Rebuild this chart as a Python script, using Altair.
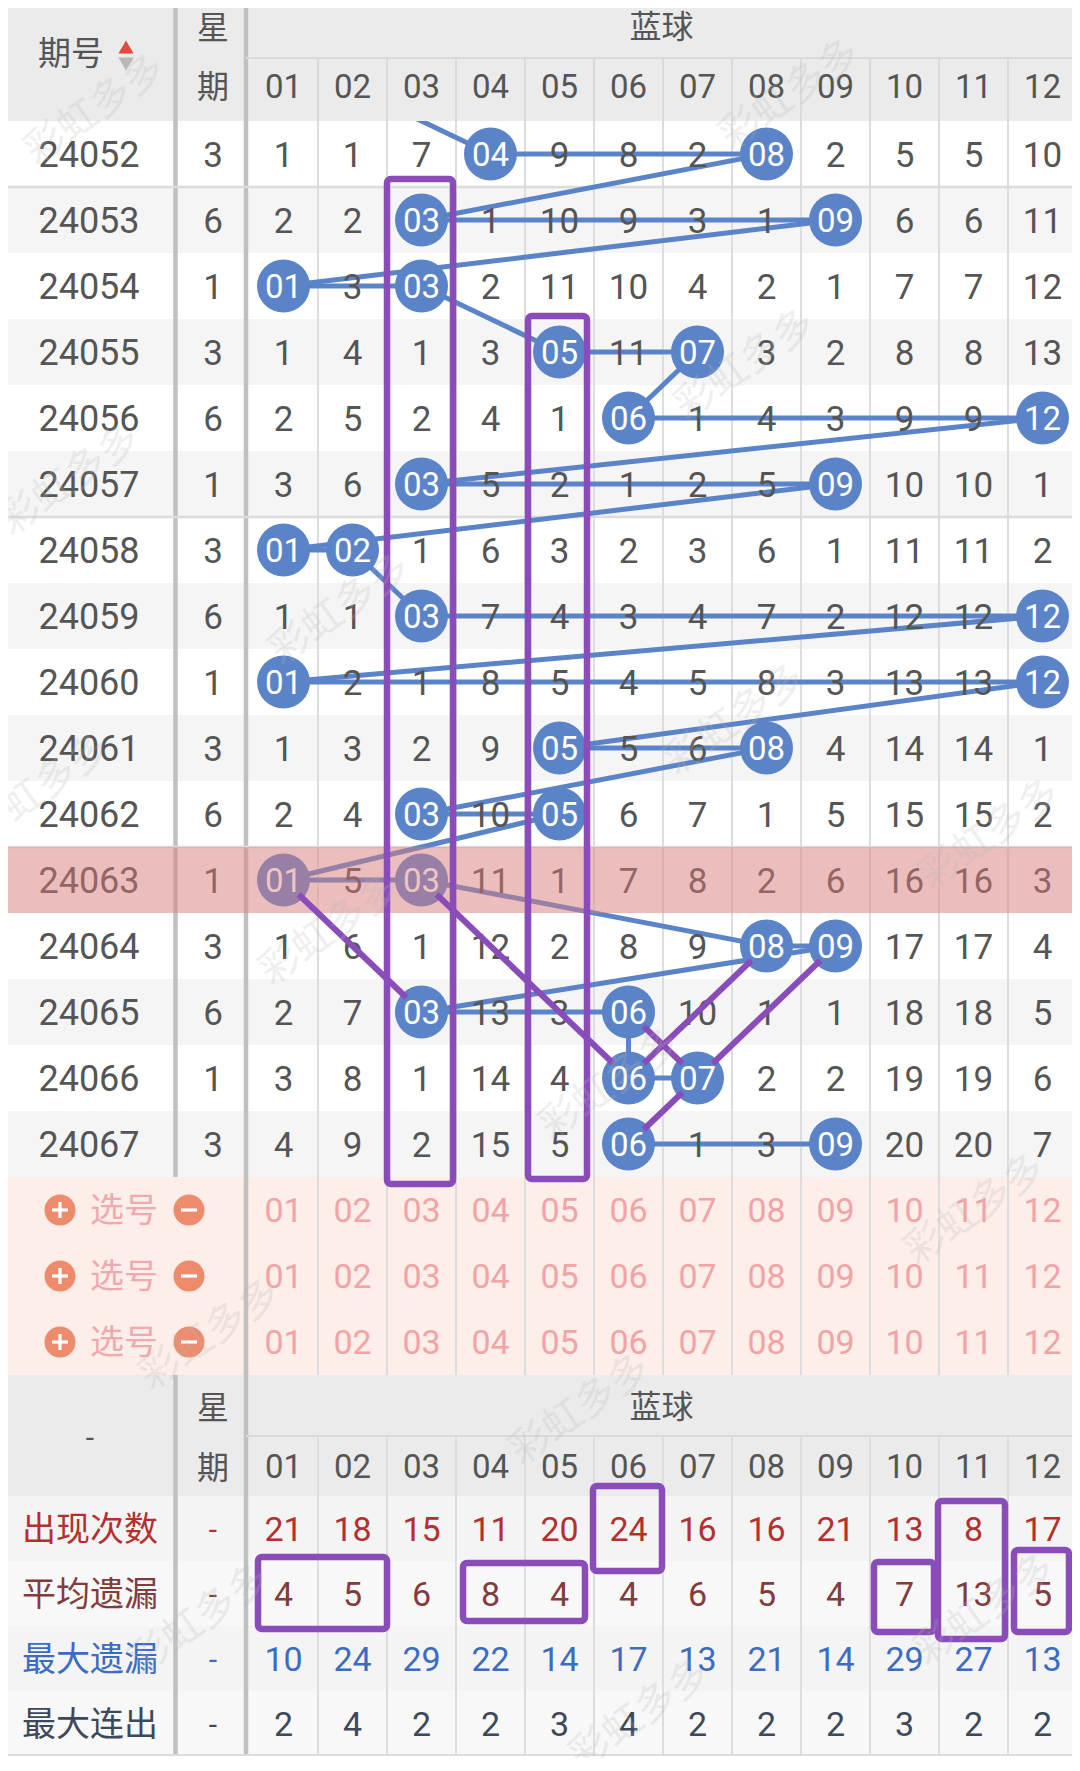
import math
import altair as alt
import pandas as pd

# ---------------- data ----------------
periods = ["24052", "24053", "24054", "24055", "24056", "24057", "24058", "24059",
           "24060", "24061", "24062", "24063", "24064", "24065", "24066", "24067"]
weekdays = [3, 6, 1, 3, 6, 1, 3, 6, 1, 3, 6, 1, 3, 6, 1, 3]
ball_labels = ["01", "02", "03", "04", "05", "06", "07", "08", "09", "10", "11", "12"]
H = None  # a drawn ball (circle) instead of a miss count
miss_rows = [
    [1, 1, 7, H, 9, 8, 2, H, 2, 5, 5, 10],
    [2, 2, H, 1, 10, 9, 3, 1, H, 6, 6, 11],
    [H, 3, H, 2, 11, 10, 4, 2, 1, 7, 7, 12],
    [1, 4, 1, 3, H, 11, H, 3, 2, 8, 8, 13],
    [2, 5, 2, 4, 1, H, 1, 4, 3, 9, 9, H],
    [3, 6, H, 5, 2, 1, 2, 5, H, 10, 10, 1],
    [H, H, 1, 6, 3, 2, 3, 6, 1, 11, 11, 2],
    [1, 1, H, 7, 4, 3, 4, 7, 2, 12, 12, H],
    [H, 2, 1, 8, 5, 4, 5, 8, 3, 13, 13, H],
    [1, 3, 2, 9, H, 5, 6, H, 4, 14, 14, 1],
    [2, 4, H, 10, H, 6, 7, 1, 5, 15, 15, 2],
    [H, 5, H, 11, 1, 7, 8, 2, 6, 16, 16, 3],
    [1, 6, 1, 12, 2, 8, 9, H, H, 17, 17, 4],
    [2, 7, H, 13, 3, H, 10, 1, 1, 18, 18, 5],
    [3, 8, 1, 14, 4, H, H, 2, 2, 19, 19, 6],
    [4, 9, 2, 15, 5, H, 1, 3, H, 20, 20, 7],
]
prev_last_ball = 2          # last ball of the period above 24052 (line enters from it)
highlight_period = "24063"
select_label = "选号"
select_rows = 3
stat_labels = ["出现次数", "平均遗漏", "最大遗漏", "最大连出"]
stat_values = [
    [21, 18, 15, 11, 20, 24, 16, 16, 21, 13, 8, 17],
    [4, 5, 6, 8, 4, 4, 6, 5, 4, 7, 13, 5],
    [10, 24, 29, 22, 14, 17, 13, 21, 14, 29, 27, 13],
    [2, 4, 2, 2, 3, 4, 2, 2, 2, 3, 2, 2],
]
# hand-drawn marks: (period, ball) -> (period, ball)
mark_links = [("24063", 1, "24065", 3), ("24063", 3, "24066", 6), ("24066", 6, "24064", 8),
              ("24065", 6, "24066", 7), ("24066", 7, "24064", 9), ("24067", 6, "24066", 7)]
# boxes over the trend: (ball, first period, last period)
trend_boxes = [(3, "24053", "24067"), (5, "24055", "24067")]
# boxes over the statistics: (first ball, last ball, first stat row, last stat row)
stat_boxes = [(6, 6, 0, 0), (1, 2, 1, 1), (4, 5, 1, 1), (10, 10, 1, 1), (11, 11, 0, 1), (12, 12, 1, 1)]
watermark = "彩虹多多"

# ---------------- styles / layout ----------------
BLUE = "#5b83c8"
PURPLE = "#8a4cb9"
TXT = "#555555"
GRID = "#dedede"
DIV = "#c0c0c0"
HDR_BG = "#ebebeb"
NUMF = "Roboto"
CJKF = "Noto Sans CJK SC"
stat_colors = ["#b3302f", "#823c3c", "#3b6cc2", "#3e485b"]

XL, XR, YT, YB = 8, 1072, 8, 1758
PER_R = 175.5
WEEK_C = 213
DIV2 = 246
B0, BW = 249, 69
def bl(k): return B0 + BW * k
def bc(k): return B0 + BW * k + BW / 2
HDR_MID, HDR_END = 58, 121
R0, RH = 121, 66
NR = len(periods)
def rt(i): return R0 + RH * i
def rc(i): return R0 + RH * i + RH / 2
S0, SH = R0 + RH * NR, 66
B1 = S0 + SH * select_rows          # bottom header start
B1_MID, T0, TH = B1 + 61, B1 + 121, 65
TEND = T0 + TH * len(stat_labels)
CIRC_D = 53
TDY = 2                              # text optical offset
pidx = {p: i for i, p in enumerate(periods)}

xs = alt.Scale(domain=[XL, XR], nice=False, zero=False)
ys = alt.Scale(domain=[YT, YB], nice=False, zero=False, reverse=True)

def rect_layer(rows, **mark):
    df = pd.DataFrame(rows)
    enc = dict(x=alt.X("x:Q", scale=xs, axis=None), x2="x2:Q",
               y=alt.Y("y:Q", scale=ys, axis=None), y2="y2:Q")
    if "fill" in df.columns:
        enc["fill"] = alt.Fill("fill:N", scale=None)
    return alt.Chart(df).mark_rect(**mark).encode(**enc)

def rule_layer(rows, cap="butt", opacity=1):
    df = pd.DataFrame(rows)
    return alt.Chart(df).mark_rule(strokeCap=cap, opacity=opacity).encode(
        x=alt.X("x:Q", scale=xs, axis=None), x2="x2:Q",
        y=alt.Y("y:Q", scale=ys, axis=None), y2="y2:Q",
        color=alt.Color("c:N", scale=None),
        strokeWidth=alt.StrokeWidth("w:Q", scale=None))

def text_layer(rows, font, **mark):
    df = pd.DataFrame(rows)
    return alt.Chart(df).mark_text(font=font, align="center", baseline="middle", **mark).encode(
        x=alt.X("x:Q", scale=xs, axis=None), y=alt.Y("y:Q", scale=ys, axis=None),
        text="t:N", color=alt.Color("c:N", scale=None), size=alt.Size("s:Q", scale=None))

# ---------- backgrounds ----------
bg = [dict(x=0, x2=1080, y=0, y2=1771, fill="#ffffff")]
for i in range(NR):
    bg.append(dict(x=0, x2=1080, y=rt(i), y2=rt(i + 1), fill="#ffffff" if i % 2 == 0 else "#f5f5f5"))
bg.append(dict(x=0, x2=1080, y=S0, y2=B1, fill="#fdeee9"))
bg.append(dict(x=0, x2=1080, y=B1, y2=T0, fill=HDR_BG))
for k in range(len(stat_labels)):
    bg.append(dict(x=0, x2=1080, y=T0 + TH * k, y2=T0 + TH * (k + 1),
                   fill="#f4f4f4" if k % 2 == 0 else "#f8f8f8"))

grid = []
def g(x, y, x2, y2, c=GRID, w=2):
    grid.append(dict(x=x, y=y, x2=x2, y2=y2, c=c, w=w))
g(PER_R, HDR_END, PER_R, S0, DIV, 4.5)
g(PER_R, B1, PER_R, TEND, DIV, 4.5)
g(DIV2, HDR_END, DIV2, TEND, DIV, 4.5)
for k in range(1, 13):
    g(bl(k), HDR_END, bl(k), B1, "#dddddd" if k < 12 else "#cfcfcf", 2)
    g(bl(k), B1_MID if k < 12 else B1, bl(k), TEND, "#dddddd" if k < 12 else "#cfcfcf", 2)
g(DIV2, B1_MID, bl(12), B1_MID, "#dadada", 2)
for i in (1, 6, 11):
    g(0, rt(i), 1080, rt(i), "#dcdcdc", 2.5)
g(0, TEND - 1, bl(12), TEND - 1, "#dcdcdc", 2)

# ---------- blue trend line ----------
pts = [(rc(-1), bc(prev_last_ball - 1))]
for i, row in enumerate(miss_rows):
    for k, v in enumerate(row):
        if v is None:
            pts.append((rc(i), bc(k)))
trend = [dict(x=a[1], y=a[0], x2=b[1], y2=b[0], c=BLUE, w=5) for a, b in zip(pts[:-1], pts[1:])]

# ---------- top header (covers the entering line) ----------
hdr_bg = [dict(x=0, x2=1080, y=0, y2=HDR_END, fill=HDR_BG)]
hdr_grid = [dict(x=PER_R, y=0, x2=PER_R, y2=HDR_END, c=DIV, w=4.5),
            dict(x=DIV2, y=0, x2=DIV2, y2=HDR_END, c=DIV, w=4.5),
            dict(x=DIV2, y=HDR_MID, x2=bl(12), y2=HDR_MID, c="#dadada", w=2),
            dict(x=bl(12), y=0, x2=bl(12), y2=HDR_END, c="#cfcfcf", w=2)]
for k in range(1, 12):
    hdr_grid.append(dict(x=bl(k), y=HDR_MID, x2=bl(k), y2=HDR_END, c="#dadada", w=2))

# ---------- circles ----------
circ = [dict(x=p[1], y=p[0]) for p in pts[1:]]

# ---------- texts ----------
num = []
cjk = []
def tn(x, y, t, c=TXT, s=35): num.append(dict(x=x, y=y, t=str(t), c=c, s=s))
def tc(x, y, t, c=TXT, s=34): cjk.append(dict(x=x, y=y, t=t, c=c, s=s))

tc(71, 55, "期号", s=33)
tc(WEEK_C, 29, "星", s=32); tc(WEEK_C, 88, "期", s=32)
tc((DIV2 + bl(12)) / 2, 28, "蓝球", s=32)
for k, lab in enumerate(ball_labels):
    tn(bc(k), 88, lab, s=33)
for i, p in enumerate(periods):
    y = rc(i) + TDY
    tn(89, y, p, s=36)
    tn(WEEK_C, y, weekdays[i], s=35)
    for k, v in enumerate(miss_rows[i]):
        if v is None:
            tn(bc(k), y, ball_labels[k], c="#ffffff", s=33)
        else:
            tn(bc(k), y, v, s=35)
for j in range(select_rows):
    y = S0 + SH * j + SH / 2 + TDY
    tc(124, y, select_label, c="#f0a9ae", s=34)
    for k, lab in enumerate(ball_labels):
        tn(bc(k), y, lab, c="#f1a3a6", s=34)
tn(90, B1 + 64, "-", s=30)
tc(WEEK_C, B1 + 34, "星", s=32); tc(WEEK_C, B1_MID + 33, "期", s=32)
tc((DIV2 + bl(12)) / 2, B1 + 33, "蓝球", s=32)
for k, lab in enumerate(ball_labels):
    tn(bc(k), B1_MID + 32, lab, s=33)
for r, lab in enumerate(stat_labels):
    y = T0 + TH * r + TH / 2 + TDY
    tc(90, y, lab, c=stat_colors[r], s=34)
    tn(WEEK_C, y, "-", c=stat_colors[r], s=30)
    for k, v in enumerate(stat_values[r]):
        tn(bc(k), y, v, c=stat_colors[r], s=34)

# select-row icons
icons = []
icon_bars = []
for j in range(select_rows):
    y = S0 + SH * j + SH / 2
    icons += [dict(x=60, y=y), dict(x=189, y=y)]
    icon_bars += [dict(x=52, y=y, x2=68, y2=y, c="#ffffff", w=3.2),
                  dict(x=60, y=y - 8, x2=60, y2=y + 8, c="#ffffff", w=3.2),
                  dict(x=181, y=y, x2=197, y2=y, c="#ffffff", w=3.2)]

# ---------- highlight overlay ----------
hi = pidx[highlight_period]
overlay = [dict(x=0, x2=1080, y=rt(hi), y2=rt(hi + 1), fill="#e07a7a")]

# ---------- purple hand marks ----------
boxes = []
trend_pad = [(0, 3, 8, 7), (3, 7, 3, 2)]     # left/right inset, top/bottom outset
for (b, p1, p2), (il, ir, ot, ob) in zip(trend_boxes, trend_pad):
    boxes.append(dict(x=bl(b - 1) + il, x2=bl(b) - ir, y=rt(pidx[p1]) - ot, y2=rt(pidx[p2] + 1) + ob))
stat_pad = [(-1, 1, 10, 10), (9, 0, 4, 3), (7, 9, -2, -5), (4, 5, -1, 6), (-1, 3, -5, 13), (6, 8, 11, 6)]
for (b1, b2, r1, r2), (il, ir, ot, ob) in zip(stat_boxes, stat_pad):
    boxes.append(dict(x=bl(b1 - 1) + il, x2=bl(b2) - ir, y=T0 + TH * r1 - ot, y2=T0 + TH * (r2 + 1) + ob))

links = []
TRIM = 21
for p1, b1, p2, b2 in mark_links:
    y1, x1, y2, x2 = rc(pidx[p1]), bc(b1 - 1), rc(pidx[p2]), bc(b2 - 1)
    d = math.hypot(x2 - x1, y2 - y1)
    ux, uy = (x2 - x1) / d, (y2 - y1) / d
    links.append(dict(x=x1 + ux * TRIM, y=y1 + uy * TRIM, x2=x2 - ux * TRIM, y2=y2 - uy * TRIM, c=PURPLE, w=6))

# ---------- watermarks ----------
wm_pos = [(95, 110), (790, 95), (745, 365), (70, 480), (340, 610), (735, 720), (40, 790),
          (990, 835), (330, 930), (610, 1085), (975, 1210), (210, 1335), (580, 1410),
          (200, 1620), (985, 1610), (640, 1715)]
wms = [dict(x=x, y=y, t=watermark, c="#b8b8b8", s=40) for x, y in wm_pos]

# ---------- sort arrows ----------
arrows = pd.DataFrame([dict(x=126, y=47, c="#e8493f", sh="triangle-up"),
                       dict(x=126, y=64, c="#b8b8b8", sh="triangle-down")])
arrow_layer = alt.Chart(arrows).mark_point(filled=True, size=230, opacity=1, strokeWidth=0).encode(
    x=alt.X("x:Q", scale=xs, axis=None), y=alt.Y("y:Q", scale=ys, axis=None),
    color=alt.Color("c:N", scale=None), shape=alt.Shape("sh:N", scale=None))

# vega circle symbols: size = diameter ** 2
circle_layer = alt.Chart(pd.DataFrame(circ)).mark_circle(
    size=CIRC_D ** 2, opacity=1, color=BLUE).encode(
    x=alt.X("x:Q", scale=xs, axis=None), y=alt.Y("y:Q", scale=ys, axis=None))
icon_layer = alt.Chart(pd.DataFrame(icons)).mark_circle(
    size=31 ** 2, opacity=1, color="#ee8b6d").encode(
    x=alt.X("x:Q", scale=xs, axis=None), y=alt.Y("y:Q", scale=ys, axis=None))

chart = alt.layer(
    rect_layer(bg),
    rule_layer(grid),
    rule_layer(trend, cap="round"),
    rect_layer(hdr_bg),
    rule_layer(hdr_grid),
    circle_layer,
    icon_layer,
    rule_layer(icon_bars),
    text_layer(cjk, CJKF),
    text_layer(num, NUMF),
    arrow_layer,
    rect_layer(overlay, opacity=0.45),
    rect_layer(boxes, filled=False, stroke=PURPLE, strokeWidth=6.5, cornerRadius=4),
    rule_layer(links),
    text_layer(wms, CJKF, angle=325, opacity=0.22),
).properties(
    width=XR - XL, height=YB - YT,
    autosize=alt.AutoSizeParams(type="none"), padding=0,
).configure_view(stroke=None)

chart.save("out.html", embed_options={"renderer": "svg", "actions": False})
